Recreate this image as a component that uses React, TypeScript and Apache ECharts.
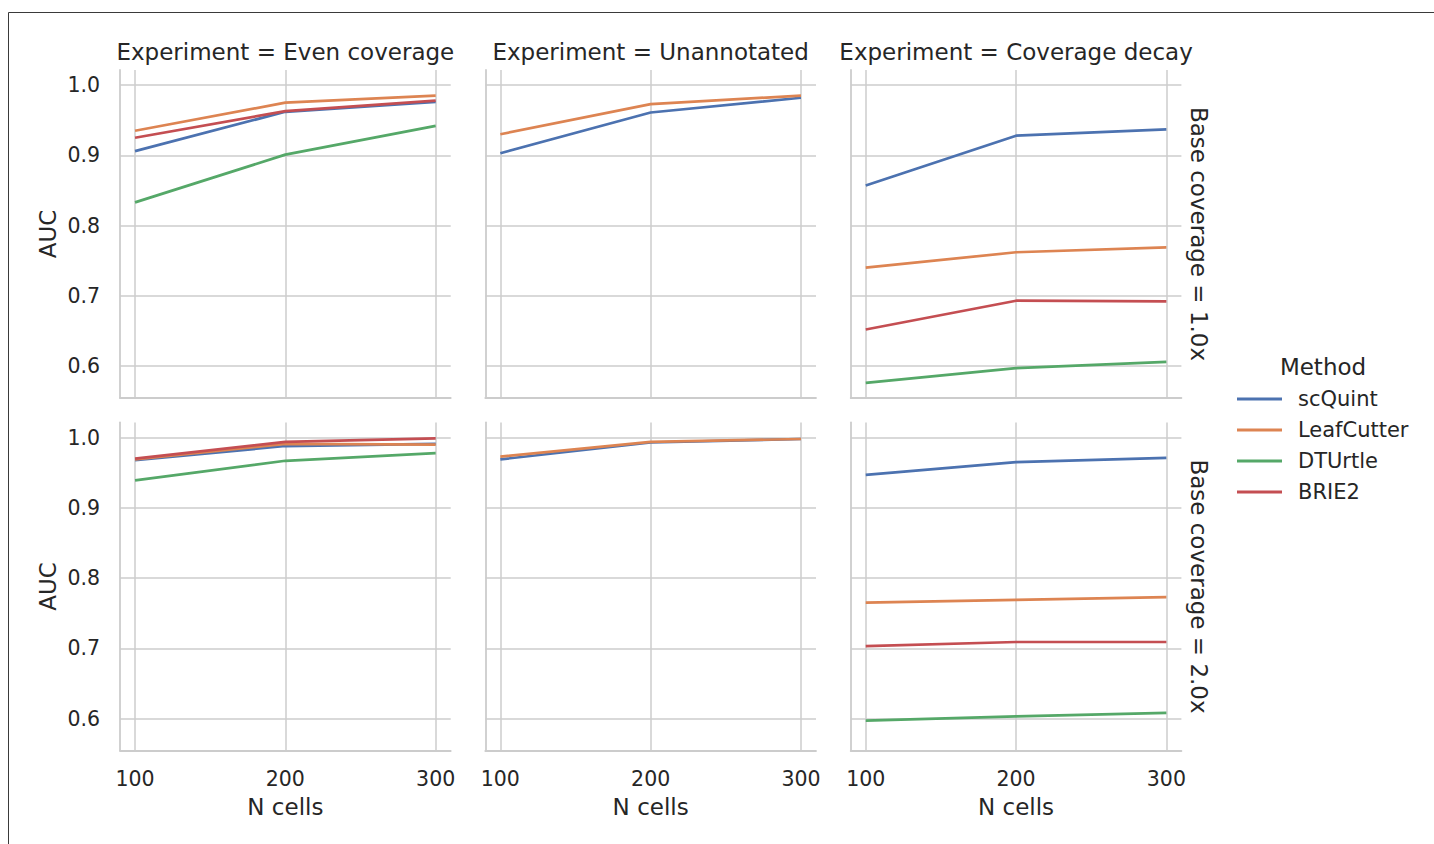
import React, { useEffect, useRef } from 'react';
import * as echarts from 'echarts';

// ---------- data ----------
const X_CELLS = [100, 200, 300];
const X_TICKS = [100, 200, 300];
const Y_TICKS = [0.6, 0.7, 0.8, 0.9, 1.0];
const METHODS = ['scQuint', 'LeafCutter', 'DTUrtle', 'BRIE2'];
const COLORS = ['#4c72b0', '#dd8452', '#55a868', '#c44e52'];
const EXPERIMENTS = ['Even coverage', 'Unannotated', 'Coverage decay'];
const COVERAGES = ['1.0x', '2.0x'];

// values ordered as METHODS (scQuint, LeafCutter, DTUrtle, BRIE2); null = method absent
const EVEN_1X = [
  [0.906, 0.962, 0.976],
  [0.935, 0.975, 0.985],
  [0.833, 0.901, 0.942],
  [0.925, 0.963, 0.978],
];
const UNANNOTATED_1X = [
  [0.903, 0.961, 0.982],
  [0.930, 0.973, 0.985],
  null,
  null,
];
const DECAY_1X = [
  [0.857, 0.928, 0.937],
  [0.740, 0.762, 0.769],
  [0.576, 0.597, 0.606],
  [0.652, 0.693, 0.692],
];
const EVEN_2X = [
  [0.968, 0.988, 0.991],
  [0.969, 0.991, 0.990],
  [0.939, 0.967, 0.978],
  [0.970, 0.994, 0.999],
];
const UNANNOTATED_2X = [
  [0.969, 0.993, 0.998],
  [0.973, 0.994, 0.998],
  null,
  null,
];
const DECAY_2X = [
  [0.947, 0.965, 0.971],
  [0.765, 0.769, 0.773],
  [0.597, 0.603, 0.608],
  [0.703, 0.709, 0.709],
];
const PANELS = [
  [EVEN_1X, UNANNOTATED_1X, DECAY_1X],
  [EVEN_2X, UNANNOTATED_2X, DECAY_2X],
];

// ---------- layout ----------
const FONT = 'DejaVu Sans';
const TEXT = '#262626';
const GRID_C = '#cccccc';
const COL_LEFT = [120, 485.3, 850.7];
const COL_W = 330.7;
const ROW_TOP = [70, 422.5];
const ROW_H = 328;
const TITLE_SIZE = 23;

function textEl(text: string, x: number, y: number, rotation = 0, size = TITLE_SIZE) {
  return {
    type: 'text',
    x,
    y,
    rotation,
    style: {
      text,
      fill: TEXT,
      fontSize: size,
      fontFamily: FONT,
      align: 'center',
      verticalAlign: 'middle',
      textAlign: 'center',
      textVerticalAlign: 'middle',
    },
  };
}

function buildOption() {
  const grid: any[] = [];
  const xAxis: any[] = [];
  const yAxis: any[] = [];
  const series: any[] = [];
  const graphic: any[] = [];

  graphic.push({
    type: 'rect',
    silent: true,
    z: -10,
    shape: { x: 8.5, y: 12.5, width: 1600, height: 1000 },
    style: { fill: 'none', stroke: '#3a3a3a', lineWidth: 1 },
  });

  let idx = 0;
  for (let r = 0; r < 2; r++) {
    for (let c = 0; c < 3; c++) {
      grid.push({
        left: COL_LEFT[c],
        top: ROW_TOP[r],
        width: COL_W,
        height: ROW_H,
        containLabel: false,
        outerBoundsMode: 'none',
      });
      xAxis.push({
        gridIndex: idx,
        type: 'value',
        min: 90,
        max: 310,
        axisLine: { show: true, onZero: false, lineStyle: { color: GRID_C, width: 1.8 } },
        axisTick: { show: true, length: 0, customValues: X_TICKS, lineStyle: { color: GRID_C } },
        axisLabel: {
          show: r === 1,
          customValues: X_TICKS,
          margin: 17.5,
          fontSize: 20.5,
          color: TEXT,
          fontFamily: FONT,
        },
        splitLine: { show: true, lineStyle: { color: GRID_C, width: 1.5 } },
      });
      yAxis.push({
        gridIndex: idx,
        type: 'value',
        min: 0.5545,
        max: 1.0215,
        axisLine: { show: true, onZero: false, lineStyle: { color: GRID_C, width: 1.8 } },
        axisTick: { show: true, length: 0, customValues: Y_TICKS, lineStyle: { color: GRID_C } },
        axisLabel: {
          show: c === 0,
          customValues: Y_TICKS,
          margin: 20,
          fontSize: 20.5,
          color: TEXT,
          fontFamily: FONT,
          formatter: (v: number) => v.toFixed(1),
        },
        splitLine: { show: true, lineStyle: { color: GRID_C, width: 1.5 } },
      });
      const panel = PANELS[r][c];
      panel.forEach((vals, m) => {
        if (!vals) return;
        series.push({
          type: 'line',
          name: METHODS[m],
          xAxisIndex: idx,
          yAxisIndex: idx,
          data: X_CELLS.map((x, i) => [x, vals[i]]),
          symbol: 'none',
          color: COLORS[m],
          lineStyle: { width: 2.7, color: COLORS[m] },
          itemStyle: { color: COLORS[m] },
          z: 2 + m,
        });
      });
      idx++;
    }
  }

  EXPERIMENTS.forEach((e, c) => {
    graphic.push(textEl('Experiment = ' + e, COL_LEFT[c] + COL_W / 2, 52));
    graphic.push(textEl('N cells', COL_LEFT[c] + COL_W / 2, 806.5));
  });

  COVERAGES.forEach((cv, r) => {
    const cy = ROW_TOP[r] + ROW_H / 2;
    graphic.push(textEl('AUC', 48, cy, Math.PI / 2));
    graphic.push(textEl('Base coverage = ' + cv, 1199, cy, -Math.PI / 2));
  });

  graphic.push(textEl('Method', 1323, 367));

  return {
    animation: false,
    backgroundColor: '#ffffff',
    grid,
    xAxis,
    yAxis,
    series,
    graphic,
    legend: {
      orient: 'vertical',
      left: 1237,
      top: 388.5,
      padding: 0,
      itemGap: 10,
      itemWidth: 45,
      itemHeight: 3,
      icon: 'rect',
      selectedMode: false,
      data: METHODS,
      textStyle: {
        fontSize: 21,
        color: TEXT,
        fontFamily: FONT,
        lineHeight: 21,
        padding: [0, 0, 0, 11],
      },
    },
  };
}

export default function App() {
  const ref = useRef<HTMLDivElement>(null);
  useEffect(() => {
    document.body.style.margin = '0';
    const chart = echarts.init(ref.current!, undefined, { renderer: 'svg' });
    chart.setOption(buildOption() as any);
    return () => chart.dispose();
  }, []);
  return <div ref={ref} style={{ width: 1434, height: 844 }} />;
}
